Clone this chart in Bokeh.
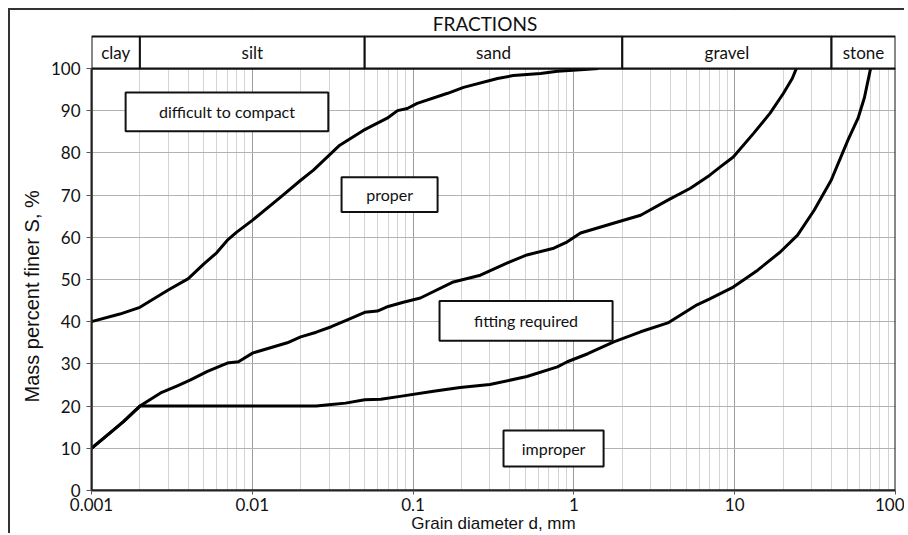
from bokeh.plotting import figure
from bokeh.models import FixedTicker, CustomJSTickFormatter, Range1d, Title
from bokeh.core.properties import value
from bokeh.embed import file_html
from bokeh.resources import INLINE

# ---- data ----
fraction_names = ["clay", "silt", "sand", "gravel", "stone"]
fraction_bounds = [0.001, 0.002, 0.05, 2, 40, 100]

# upper boundary curve (difficult to compact / proper)
d_upper = [0.001, 0.0015, 0.002, 0.003, 0.004, 0.005, 0.006, 0.007, 0.008, 0.01, 0.015,
           0.02, 0.024, 0.035, 0.049, 0.069, 0.08, 0.092, 0.106, 0.164, 0.206, 0.335,
           0.42, 0.62, 0.79, 1.1, 1.42]
s_upper = [40, 41.8, 43.4, 47.5, 50.2, 53.7, 56.3, 59.3, 61.2, 64.0, 69.5,
           73.5, 75.9, 81.8, 85.3, 88.2, 90.0, 90.5, 91.7, 94.1, 95.5, 97.6,
           98.3, 98.8, 99.3, 99.7, 100]

# middle boundary curve (proper / fitting required)
d_middle = [0.001, 0.00131, 0.00158, 0.002, 0.00269, 0.00342, 0.00413, 0.00526, 0.007,
            0.0082, 0.0101, 0.0165, 0.02, 0.025, 0.031, 0.04, 0.05, 0.06, 0.07, 0.087,
            0.111, 0.178, 0.262, 0.386, 0.51, 0.75, 0.91, 1.1, 1.87, 2.6, 3.84, 5.3,
            7.0, 8.1, 9.8, 13.1, 16.6, 20.1, 22.8, 24.2]
s_middle = [10, 13.7, 16.3, 20, 23.1, 24.8, 26.2, 28.2, 30.2,
            30.5, 32.6, 35.0, 36.4, 37.5, 38.8, 40.6, 42.2, 42.5, 43.6, 44.6,
            45.6, 49.4, 51.0, 53.9, 55.8, 57.4, 58.9, 61.0, 63.6, 65.2, 68.8, 71.6,
            74.7, 76.6, 79.0, 84.6, 89.4, 94.1, 97.6, 100]

# lower boundary curve (fitting required / improper)
d_lower = [0.001, 0.00131, 0.00158, 0.002, 0.025, 0.031, 0.038, 0.05, 0.063, 0.083,
           0.134, 0.196, 0.30, 0.51, 0.79, 0.91, 1.22, 1.77, 2.6, 3.84, 4.8, 5.83,
           7.0, 9.8, 13.9, 19.2, 24.6, 31.2, 39.8, 50.6, 58.5, 64.1, 70]
s_lower = [10, 13.7, 16.3, 20, 20, 20.4, 20.7, 21.5, 21.6, 22.3,
           23.5, 24.4, 25.1, 27.0, 29.3, 30.5, 32.4, 35.2, 37.6, 39.7, 42.0, 44.0,
           45.4, 48.2, 52.2, 56.5, 60.5, 66.4, 73.5, 83.0, 88.2, 93.1, 100]

zone_names = ["difficult to compact", "proper", "fitting required", "improper"]

x_ticks = [0.001, 0.01, 0.1, 1, 10, 100]
y_ticks = [0, 10, 20, 30, 40, 50, 60, 70, 80, 90, 100]

# ---- layout ----
X_MIN, X_MAX = 0.001, 100
Y_MIN, Y_MAX = 0, 100
PX_PER_UNIT = 4.23
BAR_TOP = Y_MAX + 32 / PX_PER_UNIT      # top of the fraction bar
HEAD_Y = Y_MAX + 45 / PX_PER_UNIT       # "FRACTIONS" heading
Y_TOP = Y_MAX + 58 / PX_PER_UNIT        # top of drawing area (outer frame line)

p = figure(width=896, height=525, x_axis_type="log",
           x_range=Range1d(X_MIN, X_MAX), y_range=Range1d(Y_MIN, Y_TOP),
           output_backend="svg", toolbar_location=None,
           min_border_left=81, min_border_top=0, min_border_right=11, min_border_bottom=44,
           background_fill_color="white", border_fill_color="white")
p.styles = {"margin-left": "8px", "margin-top": "8px",
            "border-top": "2px solid #333", "border-left": "2px solid #333"}
p.outline_line_color = None

# grid
minor = []
for dec in [0.001, 0.01, 0.1, 1, 10]:
    for k in range(2, 10):
        minor.append(dec * k)
p.xaxis.ticker = FixedTicker(ticks=x_ticks, minor_ticks=minor)
p.xaxis.formatter = CustomJSTickFormatter(code="return tick.toString();")
p.yaxis.ticker = FixedTicker(ticks=y_ticks)
p.xgrid.grid_line_color = "#9c9c9c"
p.xgrid.grid_line_width = 1
p.xgrid.minor_grid_line_color = "#d3d3d3"
p.xgrid.minor_grid_line_width = 1
p.ygrid.grid_line_color = "#b3b3b3"
p.ygrid.grid_line_width = 1

for ax in (p.xaxis, p.yaxis):
    ax.axis_line_color = "#222222"
    ax.axis_line_width = 2
    ax.major_tick_line_color = "#555555"
    ax.major_tick_in = 0
    ax.minor_tick_line_color = None
    ax.major_label_text_font = "Lato"
    ax.major_label_text_color = "#111111"
    ax.axis_label_text_font = "Liberation Sans"
    ax.axis_label_text_font_style = "normal"
    ax.axis_label_text_color = "#111111"

p.yaxis.bounds = (Y_MIN, Y_MAX)
p.yaxis.major_tick_out = 5
p.xaxis.major_tick_out = 4
p.yaxis.major_label_text_font_size = "17px"
p.xaxis.major_label_text_font_size = "17px"
p.yaxis.major_label_standoff = 6
p.xaxis.major_label_standoff = 3
p.xaxis.axis_label = "Grain diameter d, mm"
p.xaxis.axis_label_text_font_size = "17px"
p.xaxis.axis_label_standoff = 0

# y axis title, placed along the plot area (not the whole frame)
p.add_layout(Title(text="Mass percent finer S, %", align="left", offset=88,
                   text_font="Liberation Sans", text_font_size="20px",
                   text_font_style="normal", text_color="#111111", standoff=9), "left")

# white heading strip above the fraction bar (hides grid there)
p.quad(left=X_MIN, right=X_MAX, bottom=BAR_TOP, top=Y_TOP,
       fill_color="white", line_color=None)

# curves
for dd, ss in ((d_upper, s_upper), (d_middle, s_middle), (d_lower, s_lower)):
    p.line(dd, ss, line_color="black", line_width=3, line_join="round")

# plot-area border
p.quad(left=X_MIN, right=X_MAX, bottom=Y_MIN, top=Y_MAX,
       fill_color=None, line_color="#111111", line_width=2)

# fraction bar
p.quad(left=fraction_bounds[:-1], right=fraction_bounds[1:], bottom=Y_MAX, top=BAR_TOP,
       fill_color="white", line_color="#111111", line_width=2)
centers = [(a * b) ** 0.5 for a, b in zip(fraction_bounds[:-1], fraction_bounds[1:])]
p.text(x=centers, y=[(Y_MAX + BAR_TOP) / 2] * len(centers), text=fraction_names,
       text_align="center", text_baseline="middle", text_font=value("Lato"),
       text_font_size="17px", text_color="#111111")

p.text(x=[0.28], y=[HEAD_Y], text=["FRACTIONS"], text_align="center",
       text_baseline="middle", text_font=value("Lato"), text_font_size="19px",
       text_color="#111111")

# zone boxes
box_left = [0.00163, 0.0359, 0.146, 0.365]
box_right = [0.0297, 0.142, 1.74, 1.53]
box_top = [94.3, 74.2, 44.9, 14.2]
box_bottom = [85.1, 66.0, 35.5, 5.7]
p.quad(left=box_left, right=box_right, top=box_top, bottom=box_bottom,
       fill_color="white", line_color="#111111", line_width=2)
p.text(x=[(a * b) ** 0.5 for a, b in zip(box_left, box_right)],
       y=[(a + b) / 2 for a, b in zip(box_top, box_bottom)], text=zone_names,
       text_align="center", text_baseline="middle", text_font=value("Lato"),
       text_font_size="16px", text_color="#111111")

open("out.html", "w").write(file_html(p, INLINE))
